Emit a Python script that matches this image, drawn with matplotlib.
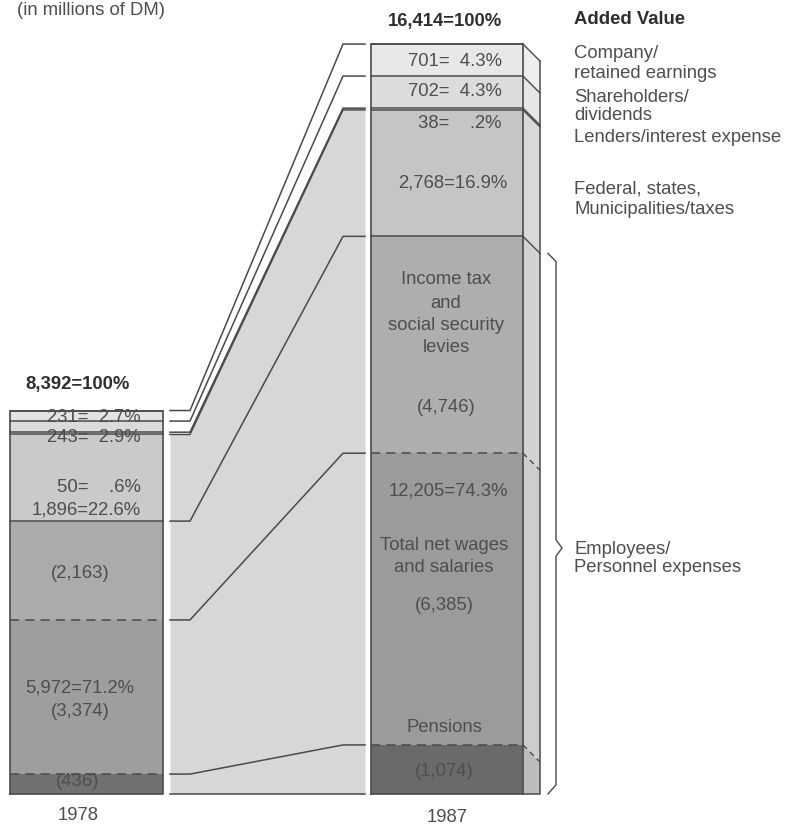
"""Added value distribution, 1978 vs 1987 (in millions of DM)."""

import matplotlib
matplotlib.use("Agg")
import matplotlib.pyplot as plt
import numpy as np

# segments from the bottom of each column upward
segments = [
    "Pensions",
    "Net wages and salaries",
    "Income tax and social security levies",
    "Federal, states, Municipalities/taxes",
    "Lenders/interest expense",
    "Shareholders/dividends",
    "Company/retained earnings",
]
values_1978 = [436, 3374, 2163, 1896, 50, 243, 231]
values_1987 = [1074, 6385, 4746, 2768, 38, 702, 701]
dashed_top = [True, True, False, False, False, False, False]

colors_1978 = ["#717171", "#9e9e9e", "#ababab", "#cacaca", "#eeeeee", "#dadada", "#e3e3e3"]
colors_1987 = ["#6a6a6a", "#9b9b9b", "#aeaeae", "#c5c5c5", "#f4f4f4", "#dcdcdc", "#e8e8e8"]
side_1987 = ["#bcbcbc", "#cdcdcd", "#d2d2d2", "#d9d9d9", "#f0f0f0", "#e6e6e6", "#eeeeee"]

# pixel layout of the drawing
BASE_PX = 794.0
PX_PER_UNIT = 0.04569
W, H = 793, 827
X78 = (10, 163)
X87 = (371, 523)
SIDE_W = 17
BAND_X = [170, 190, 343, 365]
LINE = "#4a4a4a"
TXT = "#4e4e4e"
FONT = "Liberation Sans"
FS = 13.3


def yv(px):
    """Convert a pixel row into the value axis."""
    return (BASE_PX - px) / PX_PER_UNIT


fig = plt.figure(figsize=(W / 100, H / 100), dpi=100)
ax = fig.add_axes([0, 0, 1, 1])
ax.set_xlim(0, W)
ax.set_ylim(yv(H), yv(0))
ax.axis("off")

cum78 = np.concatenate([[0], np.cumsum(values_1978)])
cum87 = np.concatenate([[0], np.cumsum(values_1987)])
depth = SIDE_W / PX_PER_UNIT

# connecting band between the two columns
band_top = [cum78[4], cum78[4], cum87[4], cum87[4]]
ax.fill_between(BAND_X, 0, band_top, color="#d7d7d7", lw=0, zorder=1)
ax.plot([BAND_X[0], BAND_X[-1]], [0, 0], color=LINE, lw=1.1, zorder=3)
for i in range(1, len(cum78)):
    ax.plot(BAND_X, [cum78[i], cum78[i], cum87[i], cum87[i]], color=LINE, lw=1.1, zorder=3)

# front faces of both columns
for (x0, x1), cum, cols in [(X78, cum78, colors_1978), (X87, cum87, colors_1987)]:
    ax.bar((x0 + x1) / 2, np.diff(cum), bottom=cum[:-1], width=x1 - x0,
           color=cols, edgecolor="none", zorder=2)
    for i in range(1, len(cum)):
        ls = (0, (6, 4)) if dashed_top[i - 1] else "-"
        ax.plot([x0, x1], [cum[i], cum[i]], color=LINE, lw=1.1, ls=ls, zorder=4)
    ax.plot([x0, x0, x1, x1, x0], [0, cum[-1], cum[-1], 0, 0], color=LINE, lw=1.2, zorder=4)

# side face of the 1987 column
xs0, xs1 = X87[1], X87[1] + SIDE_W
for i in range(len(values_1987)):
    b, t = cum87[i], cum87[i + 1]
    poly_x = [xs0, xs1, xs1, xs0]
    poly_y = [t, t - depth, max(b - depth, 0), b]
    ax.fill(poly_x, poly_y, color=side_1987[i], lw=0, zorder=2)
    ls = (0, (4, 3)) if dashed_top[i] else "-"
    ax.plot([xs0, xs1], [t, t - depth], color=LINE, lw=1.0, ls=ls, zorder=4)
ax.plot([xs1, xs1, xs0], [cum87[-1] - depth, 0, 0], color=LINE, lw=1.1, zorder=4)

# brace spanning the employee share
b_top = cum87[3] - depth
b_mid = yv(548)
bx = xs1 + 16
brace_x = [bx - 8, bx, bx, bx + 6, bx, bx, bx - 8]
brace_y = [b_top, b_top - 180, b_mid + 180, b_mid, b_mid - 180, 200, 0]
ax.plot(brace_x, brace_y, color=LINE, lw=1.0, zorder=4)

txt = dict(family=FONT, fontsize=FS, color=TXT, va="center", zorder=5)
bold = dict(family=FONT, fontsize=FS, color="#2e2e2e", fontweight="bold", va="center", zorder=5)

ax.text(17, yv(10), "(in millions of DM)", ha="left", **txt)
ax.text(78, yv(384), "8,392=100%", ha="center", **bold)
ax.text(445, yv(21), "16,414=100%", ha="center", **bold)
ax.text(574, yv(20), "Added Value", ha="left", **bold)

# 1978 column labels
ax.text(141, yv(418), "231=  2.7%", ha="right", **txt)
ax.text(141, yv(437), "243=  2.9%", ha="right", **txt)
ax.text(141, yv(488), "50=    .6%", ha="right", **txt)
ax.text(141, yv(510), "1,896=22.6%", ha="right", **txt)
ax.text(80, yv(573), "(2,163)", ha="center", **txt)
ax.text(80, yv(688), "5,972=71.2%", ha="center", **txt)
ax.text(80, yv(712), "(3,374)", ha="center", **txt)
ax.text(78, yv(781), "(436)", ha="center", **txt)

# 1987 column labels
ax.text(502, yv(61), "701=  4.3%", ha="right", **txt)
ax.text(502, yv(92), "702=  4.3%", ha="right", **txt)
ax.text(502, yv(123), "38=    .2%", ha="right", **txt)
ax.text(507, yv(183), "2,768=16.9%", ha="right", **txt)
for label, p in [("Income tax", 280), ("and", 303), ("social security", 326), ("levies", 348),
                 ("(4,746)", 408)]:
    ax.text(446, yv(p), label, ha="center", **txt)
ax.text(508, yv(491), "12,205=74.3%", ha="right", **txt)
for label, p in [("Total net wages", 545), ("and salaries", 567), ("(6,385)", 605),
                 ("Pensions", 728), ("(1,074)", 771)]:
    ax.text(444, yv(p), label, ha="center", **txt)

# right-hand recipients
for label, p in [("Company/", 53), ("retained earnings", 73), ("Shareholders/", 97),
                 ("dividends", 115), ("Lenders/interest expense", 137),
                 ("Federal, states,", 189), ("Municipalities/taxes", 210),
                 ("Employees/", 549), ("Personnel expenses", 567)]:
    ax.text(574, yv(p), label, ha="left", **txt)

ax.text(78, yv(815), "1978", ha="center", **txt)
ax.text(447, yv(817), "1987", ha="center", **txt)

fig.savefig("out.png", dpi=100, facecolor="white")
